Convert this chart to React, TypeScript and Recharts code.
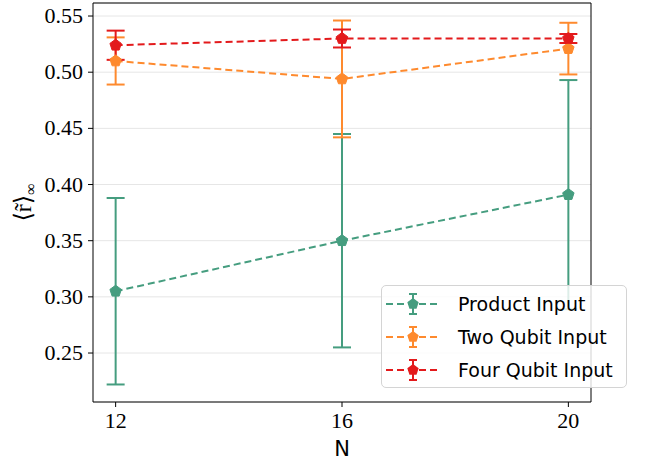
import { CartesianGrid, ErrorBar, Label, Line, LineChart, ReferenceLine, XAxis, YAxis } from "recharts";

const nValues = [12, 16, 20];
const productMean = [0.305, 0.35, 0.391];
const productErr = [0.083, 0.095, 0.102];
const twoQubitMean = [0.51, 0.494, 0.521];
const twoQubitErr = [0.021, 0.052, 0.023];
const fourQubitMean = [0.524, 0.53, 0.53];
const fourQubitErr = [0.013, 0.008, 0.004];
const yTicks = [0.25, 0.3, 0.35, 0.4, 0.45, 0.5, 0.55];

const X_DOMAIN = [11.6, 20.4];
const Y_DOMAIN = [0.2064, 0.5616];

const GREEN = "#459d7f";
const ORANGE = "#fe8a2e";
const RED = "#e31a1c";

const data = nValues.map((n, i) => ({
  n,
  product: productMean[i],
  productErr: productErr[i],
  two: twoQubitMean[i],
  twoErr: twoQubitErr[i],
  four: fourQubitMean[i],
  fourErr: fourQubitErr[i],
}));

const series = [
  { key: "product", err: "productErr", color: GREEN, label: "Product Input" },
  { key: "two", err: "twoErr", color: ORANGE, label: "Two Qubit Input" },
  { key: "four", err: "fourErr", color: RED, label: "Four Qubit Input" },
];

function pentagon(cx: number, cy: number, r: number) {
  const pts: string[] = [];
  for (let k = 0; k < 5; k++) {
    const a = -Math.PI / 2 + (k * 2 * Math.PI) / 5;
    pts.push(`${cx + r * Math.cos(a)},${cy + r * Math.sin(a)}`);
  }
  return pts.join(" ");
}

const makeDot = (color: string) => (props: any) => {
  const { cx, cy, index } = props;
  if (cx == null || cy == null) return <g key={index} />;
  return <polygon key={index} points={pentagon(cx, cy, 6)} fill={color} stroke={color} strokeWidth={1} />;
};

const serif = "'Liberation Serif', 'DejaVu Serif', serif";
const sans = "'DejaVu Sans', 'Noto Sans', sans-serif";

const XTick = (props: any) => {
  const { x, y, payload } = props;
  return (
    <text x={x} y={y + 17} textAnchor="middle" fontFamily={serif} fontSize={22} fill="#000">
      {payload.value}
    </text>
  );
};

const YTick = (props: any) => {
  const { x, y, payload } = props;
  return (
    <text x={x} y={y + 7} textAnchor="end" fontFamily={serif} fontSize={22} fill="#000">
      {Number(payload.value).toFixed(2)}
    </text>
  );
};

const YLabel = (props: any) => {
  const vb = props.viewBox || { y: 3, height: 399 };
  const cx = 31;
  const cy = vb.y + vb.height / 2;
  return (
    <text
      x={cx}
      y={cy}
      transform={`rotate(-90, ${cx}, ${cy})`}
      textAnchor="middle"
      fontFamily={serif}
      fontSize={24}
      fill="#000"
    >
      ⟨r̃⟩
      <tspan dy={5} fontSize={16}>
        ∞
      </tspan>
    </text>
  );
};

function LegendIcon({ color }: { color: string }) {
  return (
    <svg width={56} height={24} style={{ display: "block" }}>
      <line x1={2} y1={12} x2={54} y2={12} stroke={color} strokeWidth={2} strokeDasharray="7 4" />
      <line x1={29} y1={2} x2={29} y2={22} stroke={color} strokeWidth={2} />
      <line x1={25} y1={2} x2={33} y2={2} stroke={color} strokeWidth={2} />
      <line x1={25} y1={22} x2={33} y2={22} stroke={color} strokeWidth={2} />
      <polygon points={pentagon(29, 12, 6)} fill={color} />
    </svg>
  );
}

export default function App() {
  return (
    <div style={{ position: "absolute", left: 0, top: 0, width: 654, height: 464, background: "#fff" }}>
      <LineChart width={654} height={464} data={data} margin={{ top: 3, right: 63, bottom: 0, left: 0 }}>
        <CartesianGrid horizontal vertical={false} stroke="#e6e6e6" strokeWidth={1} />
        <XAxis
          dataKey="n"
          type="number"
          domain={X_DOMAIN}
          ticks={nValues}
          height={62}
          tickSize={5}
          tickMargin={4}
          stroke="#000"
          tick={<XTick />}
          label={{ value: "N", position: "insideBottom", offset: 8, fill: "#000", fontSize: 21, fontFamily: sans }}
        />
        <YAxis
          type="number"
          domain={Y_DOMAIN}
          ticks={yTicks}
          width={93}
          tickSize={5}
          tickMargin={5}
          stroke="#000"
          allowDataOverflow
          tick={<YTick />}
        >
          <Label content={<YLabel />} />
        </YAxis>
        <ReferenceLine y={Y_DOMAIN[1]} stroke="#000" strokeWidth={1} />
        <ReferenceLine x={X_DOMAIN[1]} stroke="#000" strokeWidth={1} />
        {series.map((s) => (
          <Line
            key={s.key}
            dataKey={s.key}
            stroke={s.color}
            strokeWidth={2}
            strokeDasharray="7 4"
            dot={makeDot(s.color)}
            activeDot={false}
            isAnimationActive={false}
          >
            <ErrorBar dataKey={s.err} direction="y" width={9} stroke={s.color} strokeWidth={2} />
          </Line>
        ))}
      </LineChart>
      <div
        style={{
          position: "absolute",
          left: 381,
          top: 285,
          width: 246,
          height: 103,
          background: "rgba(255,255,255,0.82)",
          border: "1px solid #d4d4d4",
          borderRadius: 5,
          boxSizing: "border-box",
          padding: "1px 0 0 2px",
          fontFamily: sans,
          fontSize: 19,
          color: "#000",
        }}
      >
        {series.map((s) => (
          <div key={s.key} style={{ display: "flex", alignItems: "center", height: 33 }}>
            <LegendIcon color={s.color} />
            <span style={{ marginLeft: 18 }}>{s.label}</span>
          </div>
        ))}
      </div>
    </div>
  );
}
